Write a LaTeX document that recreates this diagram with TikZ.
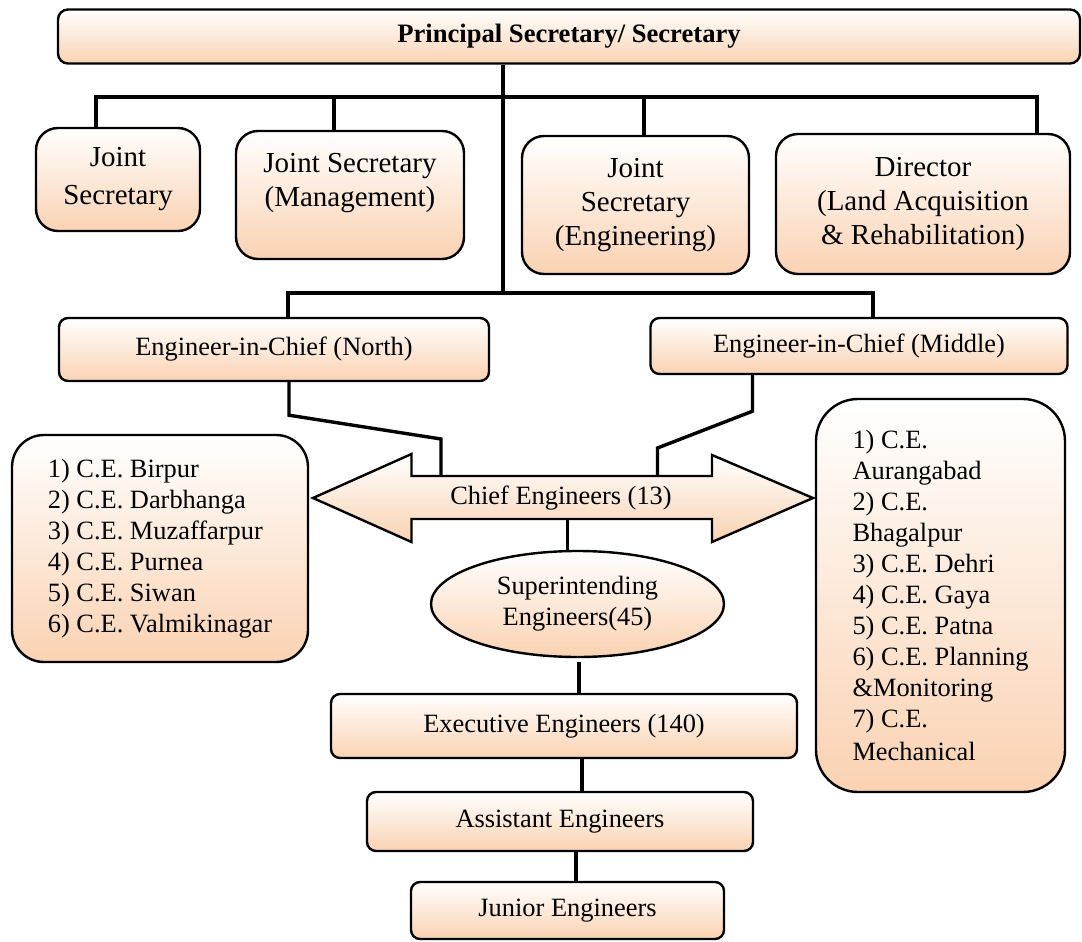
\documentclass[tikz,border=0pt]{standalone}
\usepackage{fontspec}
\setmainfont{Liberation Serif}
\usetikzlibrary{shapes.geometric,calc}
\definecolor{peach}{RGB}{250,210,178}
\begin{document}
\begin{tikzpicture}[x=1pt,y=-1pt,
  every node/.style={inner sep=0pt},
  shadebox/.style={draw=black, line width=2.4pt, top color=white, bottom color=peach},
  conn/.style={line width=3.4pt, line join=miter},
  txt/.style={font=\fontsize{26.4}{31}\selectfont},
  bigtxt/.style={font=\fontsize{29}{34}\selectfont},
]
\useasboundingbox (0,0) rectangle (1082,942);

% head of the department
\node[shadebox, rounded corners=10, minimum width=1022, minimum height=54,
      font=\bfseries\fontsize{26.6}{32}\selectfont] (ps) at (569,36.5) {Principal Secretary/ Secretary};

% secretariat level
\node[shadebox, rounded corners=22, minimum width=164, minimum height=103, bigtxt, align=center]
  (js) at (118,179.5) {Joint\\[4pt]Secretary};
\node[shadebox, rounded corners=22, minimum width=228, minimum height=128] (jsm) at (350,195) {};
\node[bigtxt, align=center] (jsm-t) at ($(jsm.center)+(0,-12)$) {Joint Secretary\\(Management)};
\node[shadebox, rounded corners=22, minimum width=227, minimum height=138, bigtxt, align=center]
  (jse) at (635.5,205) {Joint\\Secretary\\(Engineering)};
\node[shadebox, rounded corners=22, minimum width=294, minimum height=140, bigtxt, align=center]
  (dir) at (923,204) {Director\\(Land Acquisition\\\& Rehabilitation)};

% engineers-in-chief
\node[shadebox, rounded corners=9, minimum width=430, minimum height=63, txt]
  (eicn) at (274,349.5) {Engineer-in-Chief (North)};
\node[shadebox, rounded corners=9, minimum width=417, minimum height=56, txt]
  (eicm) at (859,346) {Engineer-in-Chief (Middle)};

% chief engineer lists
\node[shadebox, rounded corners=32, minimum width=296, minimum height=227, txt, align=left]
  (cel) at (160,548.5) {1) C.E. Birpur\\2) C.E. Darbhanga\\3) C.E. Muzaffarpur\\4) C.E. Purnea\\5) C.E. Siwan\\6) C.E. Valmikinagar};
\node[shadebox, rounded corners=42, minimum width=249, minimum height=393, txt, align=left]
  (cer) at (940.5,595.5) {1) C.E.\\Aurangabad\\2) C.E.\\Bhagalpur\\3) C.E. Dehri\\4) C.E. Gaya\\5) C.E. Patna\\6) C.E. Planning\\\&Monitoring\\7) C.E.\\[2pt]Mechanical};

% double-headed arrow of the chief engineers
\draw[shadebox] (313,498) -- (411.5,454) -- (411.5,476) -- (712,476) -- (712,455) -- (813,498)
  -- (712,542) -- (712,519) -- (411.5,519) -- (411.5,542) -- cycle;
\node[txt] (ce) at (561,498) {Chief Engineers (13)};
\coordinate (ce-nw) at (441,476);
\coordinate (ce-ne) at (657.5,476);
\coordinate (ce-s) at (567.5,519);

% field levels
\node[shadebox, ellipse, minimum width=293, minimum height=106, txt, align=center]
  (se) at (577.5,604) {Superintending\\Engineers(45)};
\node[shadebox, rounded corners=9, minimum width=466, minimum height=64, txt]
  (exec) at (564,726) {Executive Engineers (140)};
\node[shadebox, rounded corners=9, minimum width=386, minimum height=59, txt]
  (asst) at (560,821.5) {Assistant Engineers};
\node[shadebox, rounded corners=9, minimum width=313, minimum height=57, txt]
  (jun) at (567.5,910.5) {Junior Engineers};

% connectors
\coordinate (spine) at (503,293);
\draw[conn] (spine |- ps.south) -- (spine);

\coordinate (b1l) at (96,97);
\coordinate (b1m) at (334,97);
\coordinate (b1e) at (644,97);
\coordinate (b1r) at (1037,97);
\draw[conn] (b1l |- js.north) -- (b1l) -- (b1r) -- (b1r |- dir.north);
\draw[conn] (b1m) -- (b1m |- jsm.north);
\draw[conn] (b1e) -- (b1e |- jse.north);

\coordinate (b2l) at (288,293);
\coordinate (b2r) at (873,293);
\draw[conn] (b2l |- eicn.north) -- (b2l) -- (b2r) -- (b2r |- eicm.north);

\draw[conn] ([xshift=15pt]eicn.south) -- ++(0,33) -- ($(ce-nw)+(0,-37)$) -- (ce-nw);
\draw[conn] ([xshift=-106.5pt]eicm.south) -- ++(0,36) -- ($(ce-ne)+(0,-28)$) -- (ce-ne);

\draw[conn] (ce-s) -- (ce-s |- se.north);
\draw[conn, shorten <=4pt] ([xshift=1.5pt]se.south) -- ([xshift=15pt]exec.north);
\draw[conn] ([xshift=18pt]exec.south) -- ([xshift=18pt]exec.south |- asst.north);
\draw[conn] ([xshift=16pt]asst.south) -- ([xshift=16pt]asst.south |- jun.north);
\end{tikzpicture}
\end{document}
